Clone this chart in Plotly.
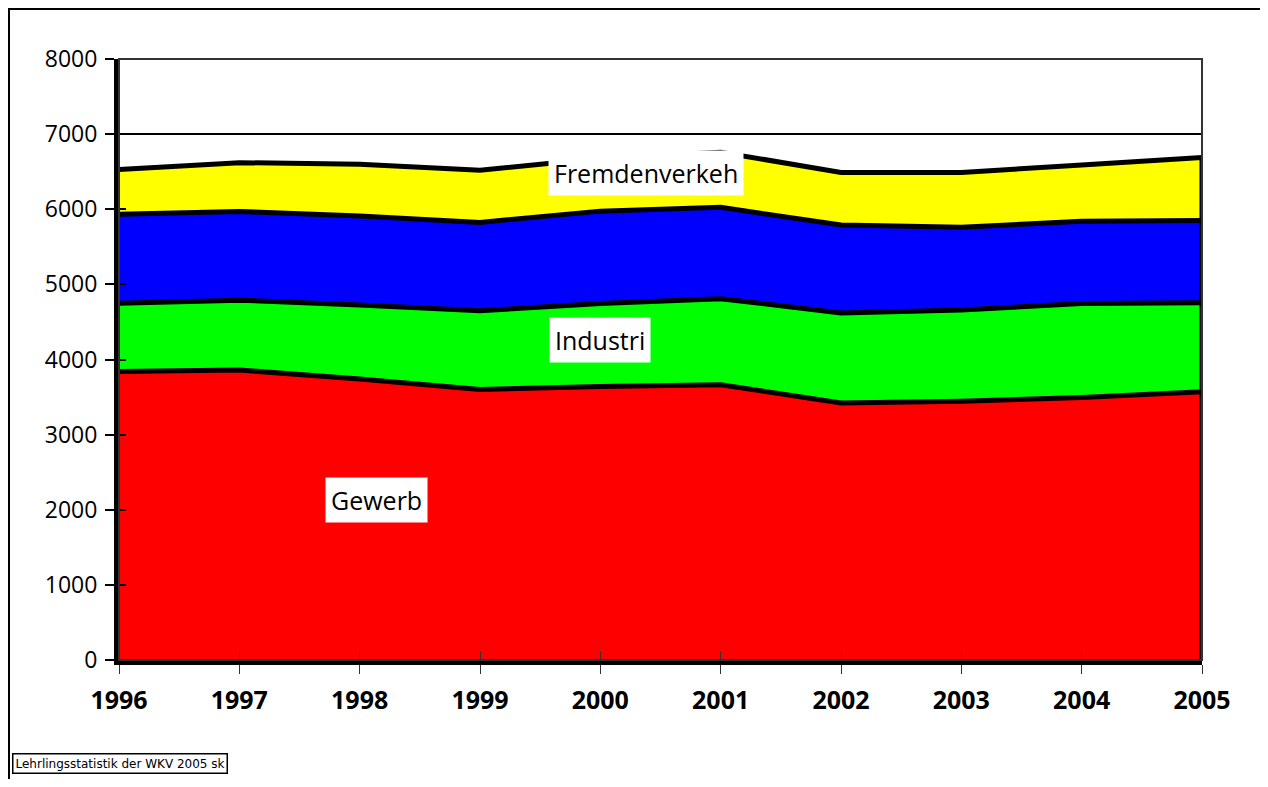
import plotly.graph_objects as go

years = [1996, 1997, 1998, 1999, 2000, 2001, 2002, 2003, 2004, 2005]
gewerbe = [3840, 3860, 3740, 3600, 3640, 3665, 3420, 3445, 3495, 3570]
industrie = [910, 930, 985, 1050, 1105, 1145, 1200, 1215, 1250, 1185]
handel = [1185, 1180, 1185, 1175, 1230, 1215, 1170, 1100, 1095, 1095]
fremdenverkehr = [595, 650, 690, 695, 705, 735, 700, 730, 750, 840]

series_names = ["Gewerbe", "Industrie", "Handel", "Fremdenverkehr"]
series_vals = [gewerbe, industrie, handel, fremdenverkehr]
series_colors = ["#ff0000", "#00ff00", "#0000ff", "#ffff00"]

y_ticks = [0, 1000, 2000, 3000, 4000, 5000, 6000, 7000, 8000]

fig = go.Figure()
for name, vals, col in zip(series_names, series_vals, series_colors):
    fig.add_trace(go.Scatter(
        x=years, y=vals, name=name, stackgroup="one", mode="lines",
        line=dict(color="black", width=5), fillcolor=col,
    ))

totals = [sum(v) for v in zip(*series_vals)]
fig.add_trace(go.Scatter(x=[years[-1], years[-1]], y=[0, totals[-1]], mode="lines",
                         line=dict(color="black", width=5), showlegend=False, hoverinfo="skip"))

# page offset of 8px (body margin) is accounted for
OFF = 8
W, H = 1268 - 2 * OFF, 787 - 2 * OFF
L, T = 119 - OFF, 59 - OFF
R = (W + OFF) - 1202
B = (H + OFF) - 660
pw, ph = 1202 - 119, 660 - 59

def px(x):
    return (x - 119) / pw

def py(y):
    return (660 - y) / ph

fig.update_layout(
    width=W, height=H,
    margin=dict(l=L, r=R, t=T, b=B),
    paper_bgcolor="white", plot_bgcolor="white",
    showlegend=False,
    xaxis=dict(range=[years[0], years[-1]], tickvals=years, ticktext=[str(y) for y in years],
               showgrid=False, zeroline=False, showline=True, linecolor="black", linewidth=5,
               ticks="outside", ticklen=9, tickwidth=1, tickcolor="#333", ticklabelstandoff=5,
               tickfont=dict(family="Open Sans", size=25, color="black", weight="bold")),
    xaxis2=dict(range=[years[0], years[-1]], tickvals=years, overlaying="x", showticklabels=False,
                showgrid=False, zeroline=False, showline=False,
                ticks="inside", ticklen=9, tickwidth=1, tickcolor="#333", anchor="y"),
    yaxis=dict(range=[0, 8000], tickvals=y_ticks, showgrid=True, gridcolor="black", gridwidth=2,
               zeroline=False, showline=True, linecolor="black", linewidth=5,
               ticks="outside", ticklen=9, tickwidth=2, tickcolor="black", ticklabelstandoff=3,
               tickfont=dict(family="Open Sans", size=23, color="black")),
    yaxis2=dict(range=[0, 8000], tickvals=y_ticks, overlaying="y", showticklabels=False,
                showgrid=False, zeroline=False, showline=False,
                ticks="inside", ticklen=7, tickwidth=2, tickcolor="black", anchor="x"),
    shapes=[
        dict(type="rect", xref="paper", yref="paper", x0=0, x1=1, y0=0, y1=1,
             line=dict(color="#333", width=2), layer="above"),
        dict(type="rect", xref="paper", yref="paper", x0=px(9), x1=px(1300), y0=py(820), y1=py(9),
             line=dict(color="black", width=2)),
    ],
    annotations=[
        dict(x=2000.38, y=6482, text="Fremdenverkeh", showarrow=False, bgcolor="white",
             borderpad=5, font=dict(family="Open Sans", size=25, color="black")),
        dict(x=2000.0, y=4260, text="Industri", showarrow=False, bgcolor="white",
             borderpad=5, font=dict(family="Open Sans", size=25, color="black")),
        dict(x=1998.14, y=2130, text="Gewerb", showarrow=False, bgcolor="white",
             borderpad=5, font=dict(family="Open Sans", size=25, color="black")),
        dict(x=px(12), y=py(763), xref="paper", yref="paper", xanchor="left", yanchor="middle",
             text="Lehrlingsstatistik der WKV 2005 sk", showarrow=False, bgcolor="white",
             bordercolor="black", borderwidth=1.5, borderpad=2,
             font=dict(family="DejaVu Sans", size=12, color="black")),
    ],
)
# invisible helper trace so overlay axes render
fig.add_trace(go.Scatter(x=[years[0]], y=[0], xaxis="x2", yaxis="y2", mode="markers",
                         marker=dict(opacity=0), showlegend=False, hoverinfo="skip"))

fig.write_html("out.html")
